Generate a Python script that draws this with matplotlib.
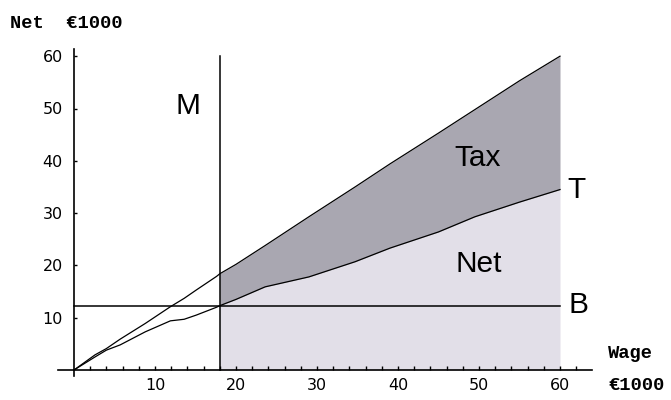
import matplotlib
matplotlib.use("Agg")
import matplotlib.pyplot as plt
import numpy as np

# --- data ---
wage = [0, 2.6, 4.0, 5.7, 8.8, 11.9, 13.6, 15.1, 17.6, 18, 20, 23.6, 29, 34.7, 39, 45, 49.5, 55, 60]
gross = [0, 2.9, 4.1, 5.9, 8.9, 12.1, 13.7, 15.3, 17.9, 18.4, 20.2, 23.8, 29.3, 35.0, 39.4, 45.3, 49.8, 55.3, 60]
net = [0, 2.5, 3.8, 4.8, 7.3, 9.4, 9.7, 10.5, 12.0, 12.3, 13.5, 15.9, 17.8, 20.7, 23.3, 26.4, 29.3, 32.1, 34.5]
minimum_wage = 18.0
basic_income = 12.2
wage_max = 60.0
x_major = [10, 20, 30, 40, 50, 60]
x_minor = list(range(2, 63, 2))
y_major = [10, 20, 30, 40, 50, 60]

W, H = 671, 400
fig = plt.figure(figsize=(W / 100, H / 100), dpi=100)

def px2fx(px):
    return px / W

def py2fy(py):
    return 1 - py / H

# data -> pixel mapping: x_px = 74 + 8.1*x ; y_px = 370 - 5.23*y
XS, YS = 8.1, 5.23
xlim = (-2.0, 64.0)
ylim = (-1.5, 61.5)
left = px2fx(74 + XS * xlim[0])
right = px2fx(74 + XS * xlim[1])
bottom = py2fy(370 - YS * ylim[0])
top = py2fy(370 - YS * ylim[1])
ax = fig.add_axes([left, bottom, right - left, top - bottom])
ax.set_xlim(*xlim)
ax.set_ylim(*ylim)
ax.patch.set_alpha(0)

w = np.array(wage)
g = np.array(gross)
n = np.array(net)
mask = w >= minimum_wage

dark = "#a9a7b1"
light = "#e2dfe8"
ax.fill_between(w[mask], 0, n[mask], color=light, lw=0, zorder=1)
ax.fill_between(w[mask], n[mask], g[mask], color=dark, lw=0, zorder=1)

ax.plot(w, g, color="black", lw=0.9, zorder=3)
ax.plot(w, n, color="black", lw=0.9, zorder=3)
ax.plot([minimum_wage, minimum_wage], [0, 60], color="black", lw=1.1, zorder=3)
ax.plot([0, wage_max], [basic_income, basic_income], color="black", lw=1.1, zorder=3)

for s in ["top", "right"]:
    ax.spines[s].set_visible(False)
ax.spines["left"].set_position(("data", 0))
ax.spines["bottom"].set_position(("data", 0))
ax.spines["left"].set_bounds(-1.2, 61.4)
ax.spines["bottom"].set_bounds(-2.0, 64.0)
for s in ["left", "bottom"]:
    ax.spines[s].set_linewidth(1.2)

ax.set_xticks(x_major)
ax.set_xticklabels([str(v) for v in x_major])
ax.set_xticks(x_minor, minor=True)
ax.set_yticks(y_major)
ax.set_yticklabels([str(v) for v in y_major])
ax.tick_params(axis="x", which="both", direction="in", length=3.2, width=1.0, pad=6.0,
               labelsize=11.5)
ax.tick_params(axis="y", which="both", direction="in", length=2.5, width=1.0, pad=8.0,
               labelsize=11.5)
for lab in ax.get_xticklabels() + ax.get_yticklabels():
    lab.set_fontfamily("DejaVu Sans")

big = dict(fontsize=21.5, fontfamily="Liberation Sans", va="baseline", color="black")
ax.text(14.07, 48.9, "M", ha="center", **big)
ax.text(49.8, 39.0, "Tax", ha="center", **big)
ax.text(60.9, 32.8, "T", ha="left", **big)
ax.text(50.0, 18.8, "Net", ha="center", **big)
ax.text(61.0, 10.9, "B", ha="left", **big)

mono = dict(fontsize=13.5, fontfamily="Liberation Mono", fontweight="bold", va="baseline",
            ha="left", color="black")
fig.text(px2fx(10), py2fy(28.3), "Net  €1000", **mono)
fig.text(px2fx(608), py2fy(358.3), "Wage", **mono)
fig.text(px2fx(608), py2fy(390), "€1000", **mono)

fig.savefig("out.png", dpi=100)
